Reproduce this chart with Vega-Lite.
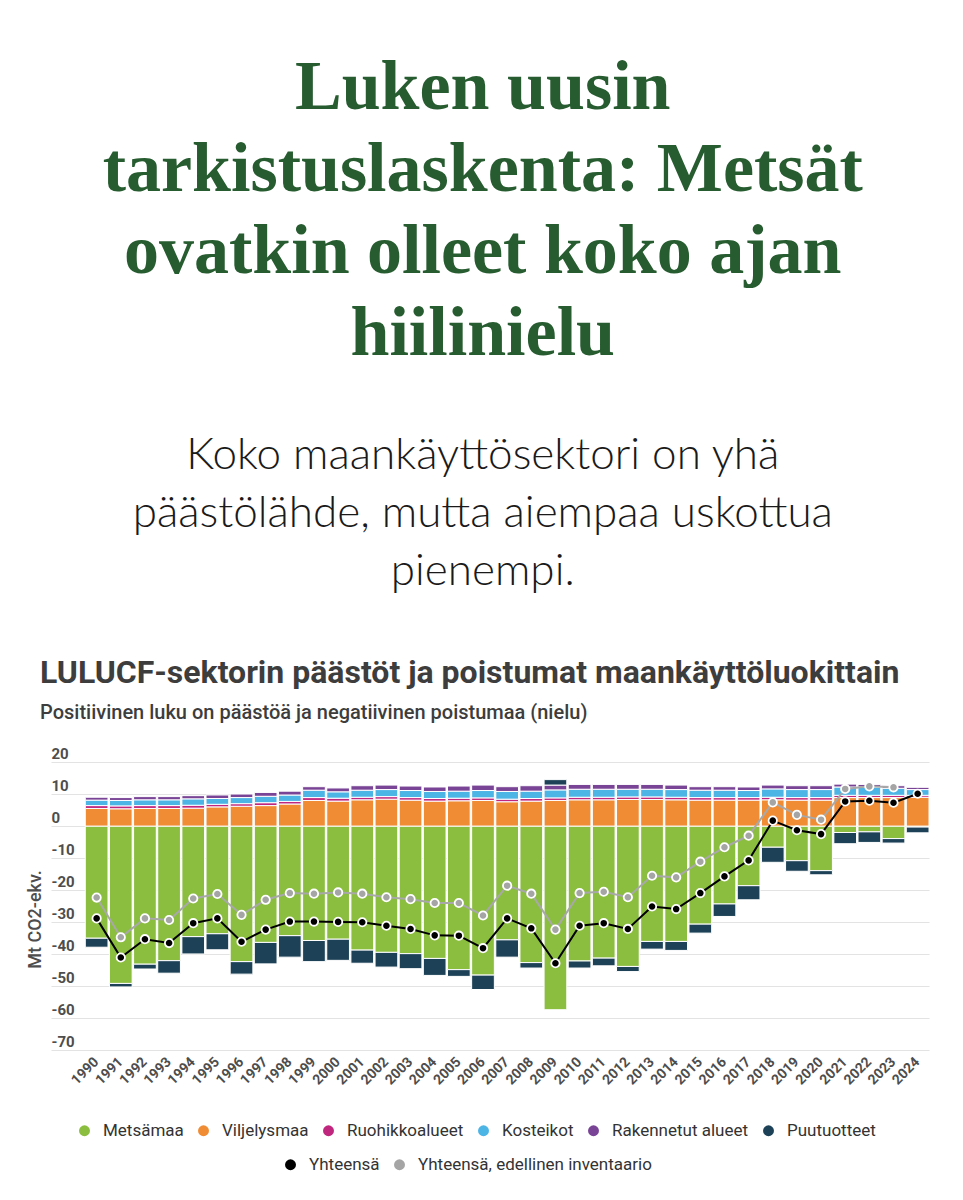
{
  "$schema": "https://vega.github.io/schema/vega-lite/v6.json",
  "background": "white",
  "padding": {"left": 26, "top": 53, "right": 0, "bottom": 0},
  "title": {
    "text": ["Luken uusin", "tarkistuslaskenta: Metsät", "ovatkin olleet koko ajan", "hiilinielu"],
    "subtitle": ["Koko maankäyttösektori on yhä", "päästölähde, mutta aiempaa uskottua", "pienempi."],
    "anchor": "middle",
    "dx": 5,
    "font": "Liberation Serif",
    "fontSize": 70,
    "fontWeight": "bold",
    "color": "#265c2f",
    "lineHeight": 82,
    "subtitleFont": "Lato",
    "subtitleFontWeight": 300,
    "subtitleFontSize": 44,
    "subtitleLineHeight": 58,
    "subtitleColor": "#1a1a1a",
    "subtitlePadding": 64,
    "offset": 62
  },
  "datasets": {
    "categories": [
      {"category": "Metsämaa", "rank": 1},
      {"category": "Viljelysmaa", "rank": 2},
      {"category": "Ruohikkoalueet", "rank": 3},
      {"category": "Kosteikot", "rank": 4},
      {"category": "Rakennetut alueet", "rank": 5},
      {"category": "Puutuotteet", "rank": 6}
    ],
    "lulucf": [
      {"year": "1990", "Metsämaa": -35.0, "Viljelysmaa": 5.5, "Ruohikkoalueet": 0.9, "Kosteikot": 1.7, "Rakennetut alueet": 0.9, "Puutuotteet": -2.8, "Yhteensä": -28.8, "Yhteensä, edellinen inventaario": -22.3},
      {"year": "1991", "Metsämaa": -49.1, "Viljelysmaa": 5.4, "Ruohikkoalueet": 0.9, "Kosteikot": 1.7, "Rakennetut alueet": 0.9, "Puutuotteet": -1.1, "Yhteensä": -41.0, "Yhteensä, edellinen inventaario": -34.7},
      {"year": "1992", "Metsämaa": -43.1, "Viljelysmaa": 5.5, "Ruohikkoalueet": 0.9, "Kosteikot": 1.8, "Rakennetut alueet": 1.0, "Puutuotteet": -1.5, "Yhteensä": -35.3, "Yhteensä, edellinen inventaario": -28.8},
      {"year": "1993", "Metsämaa": -42.0, "Viljelysmaa": 5.5, "Ruohikkoalueet": 0.9, "Kosteikot": 1.8, "Rakennetut alueet": 1.0, "Puutuotteet": -3.9, "Yhteensä": -36.5, "Yhteensä, edellinen inventaario": -29.3},
      {"year": "1994", "Metsämaa": -34.5, "Viljelysmaa": 5.6, "Ruohikkoalueet": 0.9, "Kosteikot": 2.0, "Rakennetut alueet": 1.0, "Puutuotteet": -5.4, "Yhteensä": -30.3, "Yhteensä, edellinen inventaario": -22.6},
      {"year": "1995", "Metsämaa": -33.6, "Viljelysmaa": 6.0, "Ruohikkoalueet": 0.8, "Kosteikot": 1.8, "Rakennetut alueet": 1.1, "Puutuotteet": -5.0, "Yhteensä": -28.8, "Yhteensä, edellinen inventaario": -21.2},
      {"year": "1996", "Metsämaa": -42.3, "Viljelysmaa": 6.2, "Ruohikkoalueet": 0.8, "Kosteikot": 1.9, "Rakennetut alueet": 1.1, "Puutuotteet": -3.9, "Yhteensä": -36.1, "Yhteensä, edellinen inventaario": -27.7},
      {"year": "1997", "Metsämaa": -36.3, "Viljelysmaa": 6.4, "Ruohikkoalueet": 0.9, "Kosteikot": 2.0, "Rakennetut alueet": 1.2, "Puutuotteet": -6.7, "Yhteensä": -32.3, "Yhteensä, edellinen inventaario": -23.0},
      {"year": "1998", "Metsämaa": -34.2, "Viljelysmaa": 6.9, "Ruohikkoalueet": 0.8, "Kosteikot": 2.0, "Rakennetut alueet": 1.2, "Puutuotteet": -6.7, "Yhteensä": -29.8, "Yhteensä, edellinen inventaario": -20.9},
      {"year": "1999", "Metsämaa": -35.7, "Viljelysmaa": 8.0, "Ruohikkoalueet": 0.9, "Kosteikot": 2.3, "Rakennetut alueet": 1.1, "Puutuotteet": -6.6, "Yhteensä": -29.8, "Yhteensä, edellinen inventaario": -21.1},
      {"year": "2000", "Metsämaa": -35.3, "Viljelysmaa": 7.8, "Ruohikkoalueet": 0.9, "Kosteikot": 2.0, "Rakennetut alueet": 1.2, "Puutuotteet": -6.6, "Yhteensä": -29.9, "Yhteensä, edellinen inventaario": -20.7},
      {"year": "2001", "Metsämaa": -38.7, "Viljelysmaa": 8.2, "Ruohikkoalueet": 0.8, "Kosteikot": 2.2, "Rakennetut alueet": 1.4, "Puutuotteet": -4.1, "Yhteensä": -30.0, "Yhteensä, edellinen inventaario": -21.1},
      {"year": "2002", "Metsämaa": -39.4, "Viljelysmaa": 8.4, "Ruohikkoalueet": 0.8, "Kosteikot": 2.2, "Rakennetut alueet": 1.4, "Puutuotteet": -4.6, "Yhteensä": -31.1, "Yhteensä, edellinen inventaario": -22.2},
      {"year": "2003", "Metsämaa": -39.8, "Viljelysmaa": 8.1, "Ruohikkoalueet": 0.8, "Kosteikot": 2.2, "Rakennetut alueet": 1.4, "Puutuotteet": -4.7, "Yhteensä": -32.1, "Yhteensä, edellinen inventaario": -22.8},
      {"year": "2004", "Metsämaa": -41.3, "Viljelysmaa": 7.8, "Ruohikkoalueet": 0.8, "Kosteikot": 2.2, "Rakennetut alueet": 1.4, "Puutuotteet": -5.3, "Yhteensä": -34.1, "Yhteensä, edellinen inventaario": -24.0},
      {"year": "2005", "Metsämaa": -44.8, "Viljelysmaa": 7.9, "Ruohikkoalueet": 0.8, "Kosteikot": 2.2, "Rakennetut alueet": 1.6, "Puutuotteet": -2.1, "Yhteensä": -34.2, "Yhteensä, edellinen inventaario": -24.0},
      {"year": "2006", "Metsämaa": -46.5, "Viljelysmaa": 8.0, "Ruohikkoalueet": 0.8, "Kosteikot": 2.3, "Rakennetut alueet": 1.7, "Puutuotteet": -4.5, "Yhteensä": -38.1, "Yhteensä, edellinen inventaario": -27.9},
      {"year": "2007", "Metsämaa": -35.5, "Viljelysmaa": 7.6, "Ruohikkoalueet": 0.8, "Kosteikot": 2.4, "Rakennetut alueet": 1.5, "Puutuotteet": -5.4, "Yhteensä": -28.8, "Yhteensä, edellinen inventaario": -18.6},
      {"year": "2008", "Metsämaa": -42.6, "Viljelysmaa": 7.8, "Ruohikkoalueet": 0.8, "Kosteikot": 2.3, "Rakennetut alueet": 1.7, "Puutuotteet": -1.7, "Yhteensä": -31.9, "Yhteensä, edellinen inventaario": -21.1},
      {"year": "2009", "Metsämaa": -57.3, "Viljelysmaa": 8.0, "Ruohikkoalueet": 0.8, "Kosteikot": 2.5, "Rakennetut alueet": 1.5, "Puutuotteet": 1.7, "Yhteensä": -42.8, "Yhteensä, edellinen inventaario": -32.3},
      {"year": "2010", "Metsämaa": -42.1, "Viljelysmaa": 8.2, "Ruohikkoalueet": 0.8, "Kosteikot": 2.5, "Rakennetut alueet": 1.5, "Puutuotteet": -2.2, "Yhteensä": -31.1, "Yhteensä, edellinen inventaario": -20.9},
      {"year": "2011", "Metsämaa": -41.2, "Viljelysmaa": 8.2, "Ruohikkoalueet": 0.8, "Kosteikot": 2.5, "Rakennetut alueet": 1.5, "Puutuotteet": -2.4, "Yhteensä": -30.3, "Yhteensä, edellinen inventaario": -20.5},
      {"year": "2012", "Metsämaa": -43.8, "Viljelysmaa": 8.3, "Ruohikkoalueet": 0.8, "Kosteikot": 2.4, "Rakennetut alueet": 1.5, "Puutuotteet": -1.6, "Yhteensä": -32.1, "Yhteensä, edellinen inventaario": -22.2},
      {"year": "2013", "Metsämaa": -36.0, "Viljelysmaa": 8.3, "Ruohikkoalueet": 0.8, "Kosteikot": 2.4, "Rakennetut alueet": 1.5, "Puutuotteet": -2.4, "Yhteensä": -25.1, "Yhteensä, edellinen inventaario": -15.5},
      {"year": "2014", "Metsämaa": -36.0, "Viljelysmaa": 8.2, "Ruohikkoalueet": 0.8, "Kosteikot": 2.4, "Rakennetut alueet": 1.4, "Puutuotteet": -2.8, "Yhteensä": -25.9, "Yhteensä, edellinen inventaario": -16.0},
      {"year": "2015", "Metsämaa": -30.6, "Viljelysmaa": 8.1, "Ruohikkoalueet": 0.8, "Kosteikot": 2.3, "Rakennetut alueet": 1.1, "Puutuotteet": -2.8, "Yhteensä": -20.9, "Yhteensä, edellinen inventaario": -11.1},
      {"year": "2016", "Metsämaa": -24.3, "Viljelysmaa": 8.1, "Ruohikkoalueet": 0.8, "Kosteikot": 2.3, "Rakennetut alueet": 1.1, "Puutuotteet": -3.9, "Yhteensä": -15.7, "Yhteensä, edellinen inventaario": -6.6},
      {"year": "2017", "Metsämaa": -18.6, "Viljelysmaa": 8.1, "Ruohikkoalueet": 0.8, "Kosteikot": 2.2, "Rakennetut alueet": 1.1, "Puutuotteet": -4.4, "Yhteensä": -10.7, "Yhteensä, edellinen inventaario": -3.0},
      {"year": "2018", "Metsämaa": -6.6, "Viljelysmaa": 8.2, "Ruohikkoalueet": 0.8, "Kosteikot": 2.6, "Rakennetut alueet": 1.2, "Puutuotteet": -4.7, "Yhteensä": 1.7, "Yhteensä, edellinen inventaario": 7.4},
      {"year": "2019", "Metsämaa": -10.8, "Viljelysmaa": 8.1, "Ruohikkoalueet": 0.8, "Kosteikot": 2.5, "Rakennetut alueet": 1.2, "Puutuotteet": -3.3, "Yhteensä": -1.3, "Yhteensä, edellinen inventaario": 3.5},
      {"year": "2020", "Metsämaa": -13.9, "Viljelysmaa": 8.1, "Ruohikkoalueet": 0.8, "Kosteikot": 2.5, "Rakennetut alueet": 1.2, "Puutuotteet": -1.3, "Yhteensä": -2.5, "Yhteensä, edellinen inventaario": 2.0},
      {"year": "2021", "Metsämaa": -2.0, "Viljelysmaa": 8.9, "Ruohikkoalueet": 0.7, "Kosteikot": 2.6, "Rakennetut alueet": 0.9, "Puutuotteet": -3.5, "Yhteensä": 7.7, "Yhteensä, edellinen inventaario": 11.6},
      {"year": "2022", "Metsämaa": -1.8, "Viljelysmaa": 8.9, "Ruohikkoalueet": 0.7, "Kosteikot": 2.6, "Rakennetut alueet": 0.8, "Puutuotteet": -3.3, "Yhteensä": 7.9, "Yhteensä, edellinen inventaario": 12.4},
      {"year": "2023", "Metsämaa": -3.9, "Viljelysmaa": 8.9, "Ruohikkoalueet": 0.7, "Kosteikot": 2.2, "Rakennetut alueet": 0.8, "Puutuotteet": -1.4, "Yhteensä": 7.3, "Yhteensä, edellinen inventaario": 12.1},
      {"year": "2024", "Metsämaa": -0.3, "Viljelysmaa": 9.0, "Ruohikkoalueet": 0.6, "Kosteikot": 1.8, "Rakennetut alueet": 0.7, "Puutuotteet": -1.8, "Yhteensä": 10.1, "Yhteensä, edellinen inventaario": null}
    ]
  },
  "vconcat": [
    {
      "width": 878,
      "height": 288.4,
      "title": {
        "text": "LULUCF-sektorin päästöt ja poistumat maankäyttöluokittain",
        "subtitle": "Positiivinen luku on päästöä ja negatiivinen poistumaa (nielu)",
        "anchor": "start",
        "frame": "group",
        "dx": -11,
        "font": "Roboto",
        "fontSize": 32,
        "fontWeight": "bold",
        "color": "#3d3d3d",
        "subtitleFont": "Roboto",
        "subtitleFontSize": 20,
        "subtitleFontWeight": 500,
        "subtitleColor": "#3d3d3d",
        "subtitlePadding": 13,
        "offset": 22
      },
      "data": {"name": "lulucf"},
      "layer": [
        {
          "transform": [
            {"fold": ["Metsämaa", "Viljelysmaa", "Ruohikkoalueet", "Kosteikot", "Rakennetut alueet", "Puutuotteet"], "as": ["category", "value"]},
            {"lookup": "category", "from": {"data": {"name": "categories"}, "key": "category", "fields": ["rank"]}}
          ],
          "mark": {"type": "bar", "stroke": "white", "strokeWidth": 1},
          "encoding": {
            "x": {
              "field": "year", "type": "ordinal",
              "scale": {"paddingInner": 0.06, "paddingOuter": 0.71, "align": 1},
              "axis": {"title": null, "labelAngle": -45, "labelAlign": "right", "labelBaseline": "middle", "labelFont": "Roboto", "labelFontWeight": "bold", "labelFontSize": 14, "labelColor": "#4d4d4d", "ticks": false, "domain": false, "labelPadding": 9}
            },
            "y": {
              "field": "value", "type": "quantitative", "stack": "zero",
              "scale": {"domain": [-70, 20], "nice": false, "zero": false},
              "axis": {
                "values": [-70, -60, -50, -40, -30, -20, -10, 0, 10, 20],
                "tickCount": 12,
                "labelOverlap": false,
                "labelExpr": "replace(datum.label, '−', '-')",
                "grid": true, "gridColor": "#e3e3e3", "gridWidth": 1,
                "domain": false, "ticks": false, "tickSize": 0,
                "labelAlign": "left", "labelBaseline": "alphabetic", "labelPadding": 0, "labelOffset": -4,
                "labelFont": "Roboto", "labelFontWeight": "bold", "labelFontSize": 15, "labelColor": "#4d4d4d",
                "title": "Mt CO2-ekv.", "titleFont": "Roboto", "titleFontSize": 18, "titleFontWeight": 500, "titleColor": "#4d4d4d",
                "titleX": -7, "titleY": 157
              }
            },
            "color": {
              "field": "category", "type": "nominal",
              "scale": {
                "domain": ["Metsämaa", "Viljelysmaa", "Ruohikkoalueet", "Kosteikot", "Rakennetut alueet", "Puutuotteet"],
                "range": ["#8bbd3f", "#f08c34", "#c0267d", "#4db4e6", "#7a4496", "#1d4257"]
              },
              "legend": {
                "orient": "none", "legendX": 25, "legendY": 360, "direction": "horizontal", "title": null,
                "symbolType": "circle", "symbolSize": 120, "symbolStrokeWidth": 0,
                "labelFont": "Roboto", "labelFontSize": 17, "labelColor": "#333333", "labelOffset": 10, "columnPadding": 11, "labelLimit": 300
              }
            },
            "order": {"field": "rank", "type": "quantitative", "sort": "ascending"}
          }
        },
        {
          "mark": {"type": "line", "color": "#a8a8a8", "strokeWidth": 2},
          "encoding": {
            "x": {"field": "year", "type": "ordinal"},
            "y": {"field": "Yhteensä, edellinen inventaario", "type": "quantitative"}
          }
        },
        {
          "mark": {"type": "line", "color": "#000000", "strokeWidth": 2},
          "encoding": {
            "x": {"field": "year", "type": "ordinal"},
            "y": {"field": "Yhteensä", "type": "quantitative"}
          }
        },
        {
          "transform": [
            {"fold": ["Yhteensä, edellinen inventaario", "Yhteensä"], "as": ["series", "total"]}
          ],
          "mark": {"type": "circle", "size": 70, "opacity": 1, "stroke": "white", "strokeWidth": 1.8},
          "encoding": {
            "x": {"field": "year", "type": "ordinal"},
            "y": {"field": "total", "type": "quantitative"},
            "fill": {
              "field": "series", "type": "nominal",
              "scale": {"domain": ["Yhteensä", "Yhteensä, edellinen inventaario"], "range": ["#000000", "#a5a5a5"]},
              "legend": {
                "orient": "none", "legendX": 231, "legendY": 394, "direction": "horizontal", "title": null,
                "symbolType": "circle", "symbolSize": 120, "symbolStrokeWidth": 0,
                "labelFont": "Roboto", "labelFontSize": 17, "labelColor": "#333333", "labelOffset": 10, "columnPadding": 11, "labelLimit": 300
              }
            }
          }
        }
      ]
    }
  ],
  "config": {
    "view": {"stroke": null}
  }
}
